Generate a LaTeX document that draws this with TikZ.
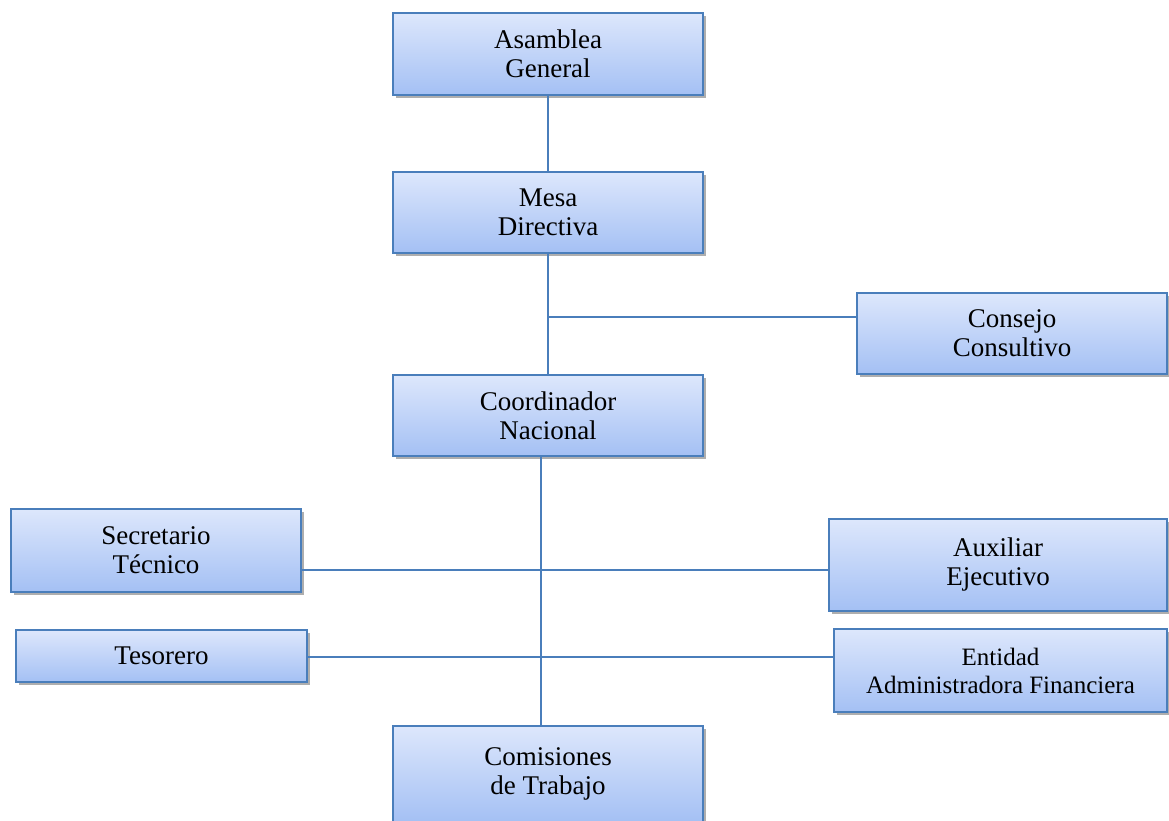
\documentclass[tikz,border=0pt]{standalone}
\usepackage{fontspec}
\setmainfont{Liberation Serif}
\usetikzlibrary{shadows}
\definecolor{boxline}{HTML}{4A7EBB}
\definecolor{boxtop}{HTML}{DDE7FC}
\definecolor{boxbot}{HTML}{A4C0F4}
\tikzset{
  orgbox/.style={draw=boxline, line width=1.3pt, top color=boxtop, bottom color=boxbot,
    drop shadow={shadow xshift=2.5pt, shadow yshift=-3pt, opacity=0.45, fill=black!70},
    align=center, inner sep=0pt, font=\fontsize{27}{29}\selectfont},
  link/.style={draw=boxline, line width=1.3pt}
}
\begin{document}
\begin{tikzpicture}[x=1pt,y=-1pt]
\useasboundingbox (0,0) rectangle (1169,821);
\node[orgbox, minimum width=310pt, minimum height=82pt] (asam) at (548,54) {Asamblea\\General};
\node[orgbox, minimum width=310pt, minimum height=81pt] (mesa) at (548,212.5) {Mesa\\Directiva};
\node[orgbox, minimum width=310pt, minimum height=81pt] (cons) at (1012,333.5) {Consejo\\Consultivo};
\node[orgbox, minimum width=310pt, minimum height=81pt] (coord) at (548,415.5) {Coordinador\\Nacional};
\node[orgbox, minimum width=290pt, minimum height=83pt] (sec) at (156,550.5) {Secretario\\Técnico};
\node[orgbox, minimum width=338pt, minimum height=92pt] (aux) at (998,565) {Auxiliar\\Ejecutivo};
\node[orgbox, minimum width=291pt, minimum height=52pt] (tes) at (161.5,656) {Tesorero};
\node[orgbox, minimum width=333pt, minimum height=83pt, font=\fontsize{25}{28}\selectfont] (ent) at (1000.5,670.5) {Entidad\\Administradora Financiera};
\node[orgbox, minimum width=310pt, minimum height=96pt] (com) at (548,774) {Comisiones\\de Trabajo};
\coordinate (j1) at (548,317);
\coordinate (j2) at (541,570);
\coordinate (j3) at (541,657);
\draw[link] (asam) -- (mesa);
\draw[link] (mesa) -- (coord);
\draw[link] (j1) -- (j1 -| cons.west);
\draw[link] ([xshift=-7pt]coord.south) -- ([xshift=-7pt]com.north);
\draw[link] (j2 -| sec.east) -- (j2 -| aux.west);
\draw[link] (j3 -| tes.east) -- (j3 -| ent.west);
\end{tikzpicture}
\end{document}
